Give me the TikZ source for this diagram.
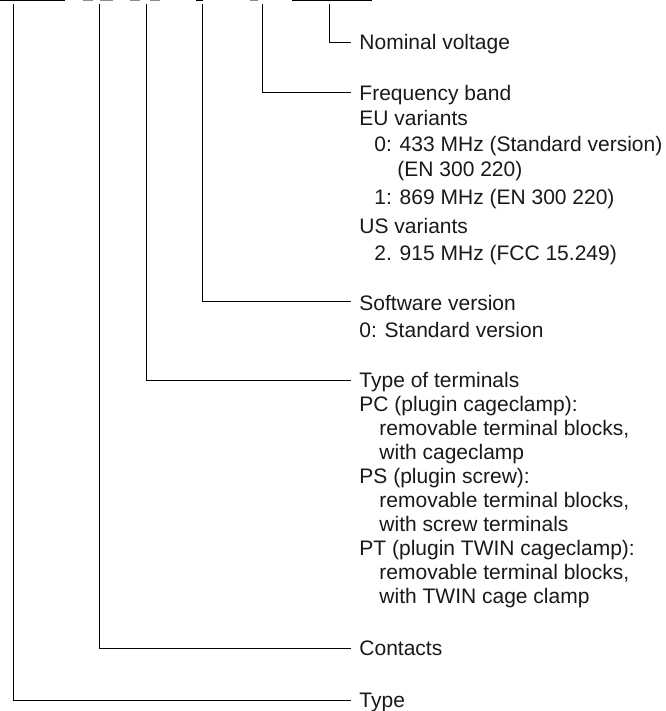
\documentclass[tikz,border=0pt]{standalone}
\usepackage{fontspec}
\setmainfont{Liberation Sans}
\newcommand{\ind}[1]{\hspace*{#1pt}}
\newcommand{\lines}[1]{\begin{tabular}[t]{@{}l@{}}#1\end{tabular}}

\begin{document}
\begin{tikzpicture}[x=1pt, y=-1pt, line width=0.9pt,
    lbl/.style={anchor=base west, inner sep=0pt, text=black!90,
                font=\fontsize{21}{24}\selectfont}]

    \useasboundingbox (0,0) rectangle (665,711);

    % code underlines (cut at the top)
    \draw [line width=2.4pt] (0,0) -- (65,0);
    \draw [line width=2.4pt, black!45] (83,0) -- (93,0) (100,0) -- (113,0);
    \draw [line width=2.4pt, black!45] (130,0) -- (140,0) (150,0) -- (160,0);
    \draw [line width=2.4pt] (196,0) -- (203,0);
    \draw [line width=2.4pt, black!45] (250,0) -- (258,0);
    \draw [line width=2.4pt] (292,0) -- (372,0);

    % tops of the leaders
    \coordinate (ttype) at (13,4);
    \coordinate (tcont) at (99,4);
    \coordinate (tterm) at (146,4);
    \coordinate (tsoft) at (202,4);
    \coordinate (tfreq) at (262,4);
    \coordinate (tnomv) at (329,4);

    % Labels
    \node [lbl] (nomv) at (359,49.5) {Nominal voltage};
    \node [lbl, font=\fontsize{21}{25.5}\selectfont] (freq) at (359,100.3) {\lines{Frequency band\\
        EU variants\\
        \ind{15}0: 433 MHz (Standard version)\\
        \ind{38}(EN 300 220)\\[2pt]
        \ind{15}1: 869 MHz (EN 300 220)\\[3.5pt]
        US variants\\[1.5pt]
        \ind{15}2. 915 MHz (FCC 15.249)}};
    \node [lbl, font=\fontsize{21}{26.5}\selectfont] (soft) at (359,310.5) {\lines{Software version\\
        0: Standard version}};
    \node [lbl] (term) at (359,387.5) {\lines{Type of terminals\\
        PC (plugin cageclamp):\\
        \ind{20}removable terminal blocks,\\
        \ind{20}with cageclamp\\
        PS (plugin screw):\\
        \ind{20}removable terminal blocks,\\
        \ind{20}with screw terminals\\
        PT (plugin TWIN cageclamp):\\
        \ind{20}removable terminal blocks,\\
        \ind{20}with TWIN cage clamp}};
    \node [lbl] (cont) at (359,655.5) {Contacts};
    \node [lbl] (type) at (359,707.5) {Type};

    % leaders
    \draw (tnomv) |- ([xshift=-8pt, yshift=7.3pt]nomv.base west);
    \draw (tfreq) |- ([xshift=-8pt, yshift=7.5pt]freq.base west);
    \draw (tsoft) |- ([xshift=-8pt, yshift=9pt]soft.base west);
    \draw (tterm) |- ([xshift=-8pt, yshift=7.5pt]term.base west);
    \draw (tcont) |- ([xshift=-8pt, yshift=7.5pt]cont.base west);
    \draw (ttype) |- ([xshift=-8pt, yshift=7.5pt]type.base west);

\end{tikzpicture}
\end{document}
